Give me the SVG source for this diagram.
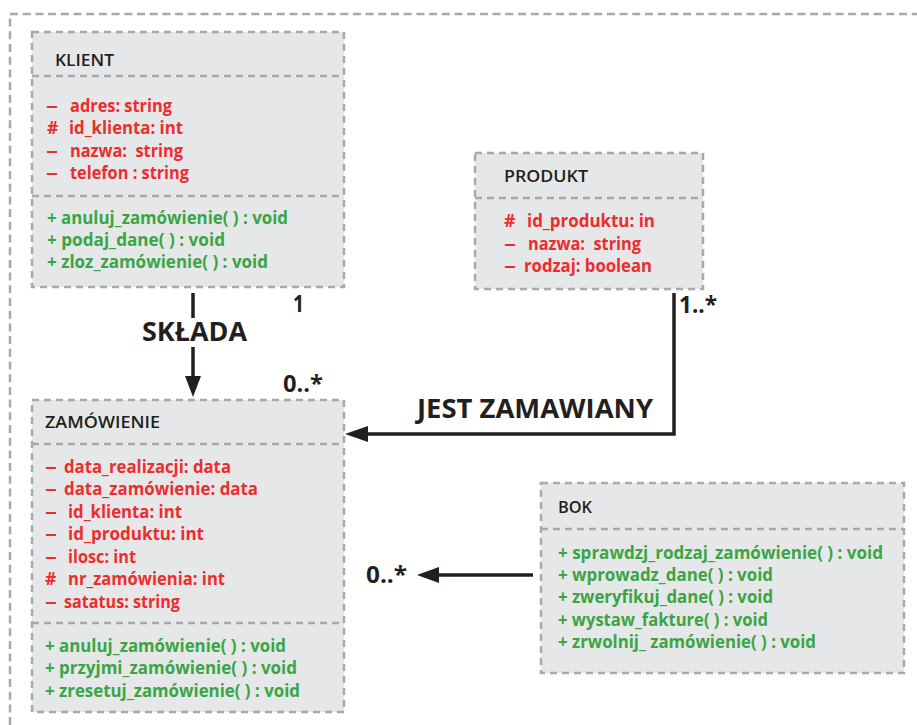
<svg xmlns="http://www.w3.org/2000/svg" width="917" height="725" viewBox="0 0 917 725">
  <defs>
    <style>
      .frame { fill: none; stroke: #a7a9ac; stroke-width: 2.5; stroke-dasharray: 8 4.7; }
      .box { fill: #e6e7e8; stroke: #a7a9ac; stroke-width: 2.5; stroke-dasharray: 7 5; }
      .sep { fill: none; stroke: #a7a9ac; stroke-width: 2.5; stroke-dasharray: 7 5; }
      .title { font-family: "Open Sans", "Liberation Sans", sans-serif; font-weight: 600; font-size: 16.5px; fill: #231f20; }
      .attr { font-family: "Open Sans", "Liberation Sans", sans-serif; font-weight: 700; font-size: 17.5px; fill: #ec2d2f; }
      .meth { font-family: "Open Sans", "Liberation Sans", sans-serif; font-weight: 700; font-size: 17.5px; fill: #3aa545; }
      .lbl { font-family: "Open Sans", "Liberation Sans", sans-serif; font-weight: 700; font-size: 26px; fill: #231f20; }
      .mult { font-family: "Open Sans", "Liberation Sans", sans-serif; font-weight: 700; font-size: 24px; fill: #231f20; }
      .line { fill: none; stroke: #231f20; stroke-width: 3.5; }
      .head { fill: #231f20; }
    </style>
  </defs>

  <!-- outer package frame -->
  <rect class="frame" x="10" y="14" width="930" height="740"/>

  <!-- KLIENT class -->
  <g id="klient">
    <rect class="box" x="32" y="32" width="312" height="255"/>
    <line class="sep" x1="32" y1="76" x2="344" y2="76"/>
    <line class="sep" x1="32" y1="196" x2="344" y2="196"/>
    <text class="title" x="55" y="66" textLength="59" lengthAdjust="spacingAndGlyphs">KLIENT</text>
    <text class="attr" x="46" y="112" textLength="12" lengthAdjust="spacingAndGlyphs">–</text>
    <text class="attr" x="70" y="112" textLength="102" lengthAdjust="spacingAndGlyphs">adres: string</text>
    <text class="attr" x="47" y="134">#</text>
    <text class="attr" x="69" y="134" textLength="114" lengthAdjust="spacingAndGlyphs">id_klienta: int</text>
    <text class="attr" x="46" y="157" textLength="12" lengthAdjust="spacingAndGlyphs">–</text>
    <text class="attr" x="70" y="157" xml:space="preserve" textLength="113" lengthAdjust="spacingAndGlyphs">nazwa:  string</text>
    <text class="attr" x="46" y="179" textLength="12" lengthAdjust="spacingAndGlyphs">–</text>
    <text class="attr" x="70" y="179" textLength="119" lengthAdjust="spacingAndGlyphs">telefon : string</text>
    <text class="meth" x="47" y="224" textLength="241" lengthAdjust="spacingAndGlyphs">+ anuluj_zamówienie( ) : void</text>
    <text class="meth" x="47" y="246" textLength="178" lengthAdjust="spacingAndGlyphs">+ podaj_dane( ) : void</text>
    <text class="meth" x="47" y="268" textLength="221" lengthAdjust="spacingAndGlyphs">+ zloz_zamówienie( ) : void</text>
  </g>

  <!-- PRODUKT class -->
  <g id="produkt">
    <rect class="box" x="475" y="153" width="228" height="136"/>
    <line class="sep" x1="475" y1="198" x2="703" y2="198"/>
    <text class="title" x="504" y="182" textLength="84" lengthAdjust="spacingAndGlyphs">PRODUKT</text>
    <text class="attr" x="504" y="227">#</text>
    <text class="attr" x="527" y="227" textLength="128" lengthAdjust="spacingAndGlyphs">id_produktu: in</text>
    <text class="attr" x="504" y="250" textLength="12" lengthAdjust="spacingAndGlyphs">–</text>
    <text class="attr" x="528" y="250" xml:space="preserve" textLength="113" lengthAdjust="spacingAndGlyphs">nazwa:  string</text>
    <text class="attr" x="504" y="272" textLength="12" lengthAdjust="spacingAndGlyphs">–</text>
    <text class="attr" x="524" y="272" textLength="128" lengthAdjust="spacingAndGlyphs">rodzaj: boolean</text>
  </g>

  <!-- ZAMÓWIENIE class -->
  <g id="zamowienie">
    <rect class="box" x="32" y="400" width="312" height="312"/>
    <line class="sep" x1="32" y1="444" x2="344" y2="444"/>
    <line class="sep" x1="32" y1="623" x2="344" y2="623"/>
    <text class="title" x="45" y="428" textLength="115" lengthAdjust="spacingAndGlyphs">ZAMÓWIENIE</text>
    <text class="attr" x="45" y="473" textLength="12" lengthAdjust="spacingAndGlyphs">–</text>
    <text class="attr" x="64" y="473" textLength="167" lengthAdjust="spacingAndGlyphs">data_realizacji: data</text>
    <text class="attr" x="45" y="495" textLength="12" lengthAdjust="spacingAndGlyphs">–</text>
    <text class="attr" x="64" y="495" textLength="194" lengthAdjust="spacingAndGlyphs">data_zamówienie: data</text>
    <text class="attr" x="45" y="518" textLength="12" lengthAdjust="spacingAndGlyphs">–</text>
    <text class="attr" x="68" y="518" textLength="114" lengthAdjust="spacingAndGlyphs">id_klienta: int</text>
    <text class="attr" x="45" y="540" textLength="12" lengthAdjust="spacingAndGlyphs">–</text>
    <text class="attr" x="68" y="540" textLength="136" lengthAdjust="spacingAndGlyphs">id_produktu: int</text>
    <text class="attr" x="45" y="563" textLength="12" lengthAdjust="spacingAndGlyphs">–</text>
    <text class="attr" x="68" y="563" textLength="68" lengthAdjust="spacingAndGlyphs">ilosc: int</text>
    <text class="attr" x="45" y="585">#</text>
    <text class="attr" x="68" y="585" textLength="157" lengthAdjust="spacingAndGlyphs">nr_zamówienia: int</text>
    <text class="attr" x="45" y="608" textLength="12" lengthAdjust="spacingAndGlyphs">–</text>
    <text class="attr" x="64" y="608" textLength="116" lengthAdjust="spacingAndGlyphs">satatus: string</text>
    <text class="meth" x="45" y="652" textLength="241" lengthAdjust="spacingAndGlyphs">+ anuluj_zamówienie( ) : void</text>
    <text class="meth" x="45" y="674" textLength="252" lengthAdjust="spacingAndGlyphs">+ przyjmi_zamówienie( ) : void</text>
    <text class="meth" x="45" y="697" textLength="255" lengthAdjust="spacingAndGlyphs">+ zresetuj_zamówienie( ) : void</text>
  </g>

  <!-- BOK class -->
  <g id="bok">
    <rect class="box" x="541" y="483" width="363" height="190"/>
    <line class="sep" x1="541" y1="529" x2="904" y2="529"/>
    <text class="title" x="558" y="513" textLength="34" lengthAdjust="spacingAndGlyphs">BOK</text>
    <text class="meth" x="558" y="559" textLength="325" lengthAdjust="spacingAndGlyphs">+ sprawdzj_rodzaj_zamówienie( ) : void</text>
    <text class="meth" x="558" y="581" textLength="215" lengthAdjust="spacingAndGlyphs">+ wprowadz_dane( ) : void</text>
    <text class="meth" x="558" y="603" textLength="215" lengthAdjust="spacingAndGlyphs">+ zweryfikuj_dane( ) : void</text>
    <text class="meth" x="558" y="626" textLength="210" lengthAdjust="spacingAndGlyphs">+ wystaw_fakture( ) : void</text>
    <text class="meth" x="558" y="648" textLength="258" lengthAdjust="spacingAndGlyphs">+ zrwolnij_ zamówienie( ) : void</text>
  </g>

  <!-- associations -->
  <g id="connectors">
    <!-- KLIENT to ZAMÓWIENIE -->
    <path class="line" d="M193,293 V318 M193,347 V380"/>
    <polygon class="head" points="185,376 201,376 193,397"/>
    <text class="lbl" x="142" y="341" textLength="105" lengthAdjust="spacingAndGlyphs">SKŁADA</text>
    <text class="mult" x="293" y="312" textLength="11" lengthAdjust="spacingAndGlyphs">1</text>
    <text class="mult" x="283" y="392" textLength="40" lengthAdjust="spacingAndGlyphs">0..*</text>

    <!-- PRODUKT to ZAMÓWIENIE -->
    <path class="line" d="M674,293 V434 H362"/>
    <polygon class="head" points="345,434 368,426 368,442"/>
    <text class="lbl" x="417" y="418" textLength="236" lengthAdjust="spacingAndGlyphs">JEST ZAMAWIANY</text>
    <text class="mult" x="679" y="313" textLength="38" lengthAdjust="spacingAndGlyphs">1..*</text>

    <!-- BOK to ZAMÓWIENIE -->
    <path class="line" d="M533,575 H434"/>
    <polygon class="head" points="417,575 439,567 439,583"/>
    <text class="mult" x="366" y="583" textLength="41" lengthAdjust="spacingAndGlyphs">0..*</text>
  </g>
</svg>
